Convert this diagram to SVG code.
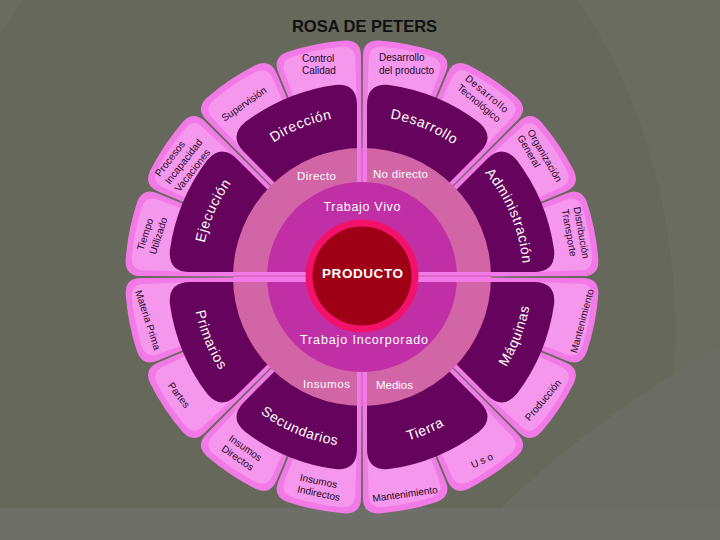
<svg xmlns="http://www.w3.org/2000/svg" width="720" height="540" viewBox="0 0 720 540">
<style>
.po{fill:#f27ae6}
.pi{fill:#f597ec}
.sg{fill:#66035c}
.pt{font-family:"Liberation Sans",Arial,sans-serif;font-size:10px;fill:#1e0a1e}
.pc{text-anchor:middle}
.sl{font-family:"Liberation Sans",Arial,sans-serif;font-size:14px;fill:#ffffff;letter-spacing:0.6px}
.rt{font-family:"Liberation Sans",Arial,sans-serif;fill:#ffffff;text-anchor:middle}
.strip{fill:#f27ae6}
.sline{stroke:#c45aaa;stroke-width:1}
</style>
<defs>
<path id="po" d="M -23.85,-122.70 L -42.17,-216.94 Q -45.22,-232.65 -29.42,-235.17 A 237 237 0 0 1 29.42,-235.17 Q 45.22,-232.65 42.17,-216.94 L 23.85,-122.70 A 125 125 0 0 0 -23.85,-122.70 Z"/>
<path id="pi" d="M -28.89,-172.60 L -35.98,-215.01 Q -38.13,-227.83 -25.27,-229.61 A 231 231 0 0 1 25.27,-229.61 Q 38.13,-227.83 35.98,-215.01 L 28.89,-172.60 Z"/>
<path id="sg" d="M 5,-124.90 L 5,-172 Q 5,-193.94 26.93,-192.12 A 194 194 0 0 1 116.83,-154.87 Q 133.59,-140.67 118.08,-125.16 L 84.78,-91.86 A 125 125 0 0 0 5,-124.90 Z"/>
<path id="aDir" d="M 226.97,189.32 A 161 161 0 0 1 398.22,120.12"/>
<path id="aDes" d="M 327.16,119.82 A 161 161 0 0 1 497.79,190.49"/>
<path id="aAdm" d="M 448.51,141.21 A 161 161 0 0 1 519.18,311.84"/>
<path id="aEje" d="M 203.96,307.72 A 161 161 0 0 1 279.08,138.99"/>
<path id="aMaq" d="M 457.06,417.93 A 170 170 0 0 0 526.95,235.88"/>
<path id="aTie" d="M 325.21,442.97 A 170 170 0 0 0 505.38,368.34"/>
<path id="aSec" d="M 218.62,368.34 A 170 170 0 0 0 398.79,442.97"/>
<path id="aPri" d="M 196.03,240.21 A 170 170 0 0 0 270.66,420.38"/>
</defs>

<g id="background">
<rect width="720" height="540" fill="#6a6c5f"/>
<ellipse cx="300" cy="330" rx="375" ry="490" fill="#65685a"/>
<path d="M 470,540 Q 560,440 720,345 L 720,540 Z" fill="#6b6d64"/>
<rect x="0" y="508" width="720" height="32" fill="#6e6f69"/>
</g>

<g id="title">
<text x="364.5" y="32" font-family="'Liberation Sans',Arial,sans-serif" font-size="16.5" font-weight="bold" fill="#111111" text-anchor="middle">ROSA DE PETERS</text>
</g>

<g id="petal-desarrollo-producto">
<use href="#po" class="po" transform="translate(362 277) rotate(11.25)"/>
<use href="#pi" class="pi" transform="translate(362 277) rotate(11.25)"/>
<text class="pt" transform="translate(379 61)"><tspan x="0" y="0">Desarrollo</tspan><tspan x="0" y="12.5">del producto</tspan></text>
</g>
<g id="petal-desarrollo-tecnologico">
<use href="#po" class="po" transform="translate(362 277) rotate(33.75)"/>
<use href="#pi" class="pi" transform="translate(362 277) rotate(33.75)"/>
<text class="pt" transform="translate(464.4 79.4) rotate(40)"><tspan x="0" y="0" letter-spacing="0.8">Desarrollo</tspan><tspan x="0" y="12.3">Tecnológico</tspan></text>
</g>
<g id="petal-organizacion">
<use href="#po" class="po" transform="translate(362 277) rotate(56.25)"/>
<use href="#pi" class="pi" transform="translate(362 277) rotate(56.25)"/>
<text class="pt" transform="translate(527 131.8) rotate(60)"><tspan x="0" y="0">Organización</tspan><tspan x="0" y="11.5">General</tspan></text>
</g>
<g id="petal-distribucion">
<use href="#po" class="po" transform="translate(362 277) rotate(78.75)"/>
<use href="#pi" class="pi" transform="translate(362 277) rotate(78.75)"/>
<text class="pt" transform="translate(573.6 207.6) rotate(80)"><tspan x="0" y="0">Distribución</tspan><tspan x="0" y="12">Transporte</tspan></text>
</g>
<g id="petal-mantenimiento-1">
<use href="#po" class="po" transform="translate(362 277) rotate(101.25)"/>
<use href="#pi" class="pi" transform="translate(362 277) rotate(101.25)"/>
<text class="pt pc" transform="translate(582 321) rotate(-75)" y="3.5">Mantenimiento</text>
</g>
<g id="petal-produccion">
<use href="#po" class="po" transform="translate(362 277) rotate(123.75)"/>
<use href="#pi" class="pi" transform="translate(362 277) rotate(123.75)"/>
<text class="pt pc" transform="translate(543 400) rotate(-50)" y="3.5">Producción</text>
</g>
<g id="petal-uso">
<use href="#po" class="po" transform="translate(362 277) rotate(146.25)"/>
<use href="#pi" class="pi" transform="translate(362 277) rotate(146.25)"/>
<text class="pt pc" transform="translate(483 460) rotate(-25)" y="3.5" letter-spacing="2.5">Uso</text>
</g>
<g id="petal-mantenimiento-2">
<use href="#po" class="po" transform="translate(362 277) rotate(168.75)"/>
<use href="#pi" class="pi" transform="translate(362 277) rotate(168.75)"/>
<text class="pt pc" transform="translate(405 494) rotate(-8)" y="3.5">Mantenimiento</text>
</g>
<g id="petal-insumos-indirectos">
<use href="#po" class="po" transform="translate(362 277) rotate(191.25)"/>
<use href="#pi" class="pi" transform="translate(362 277) rotate(191.25)"/>
<text class="pt" transform="translate(299.3 480.4) rotate(12)"><tspan x="0" y="0">Insumos</tspan><tspan x="0" y="12">Indirectos</tspan></text>
</g>
<g id="petal-insumos-directos">
<use href="#po" class="po" transform="translate(362 277) rotate(213.75)"/>
<use href="#pi" class="pi" transform="translate(362 277) rotate(213.75)"/>
<text class="pt" transform="translate(228 439.9) rotate(35)"><tspan x="0" y="0">Insumos</tspan><tspan x="0" y="12.5">Directos</tspan></text>
</g>
<g id="petal-partes">
<use href="#po" class="po" transform="translate(362 277) rotate(236.25)"/>
<use href="#pi" class="pi" transform="translate(362 277) rotate(236.25)"/>
<text class="pt pc" transform="translate(179 395) rotate(53)" y="3.5">Partes</text>
</g>
<g id="petal-materia-prima">
<use href="#po" class="po" transform="translate(362 277) rotate(258.75)"/>
<use href="#pi" class="pi" transform="translate(362 277) rotate(258.75)"/>
<text class="pt pc" transform="translate(148 320) rotate(72)" y="3.5">Materia Prima</text>
</g>
<g id="petal-tiempo">
<use href="#po" class="po" transform="translate(362 277) rotate(281.25)"/>
<use href="#pi" class="pi" transform="translate(362 277) rotate(281.25)"/>
<text class="pt" transform="translate(143.3 251.1) rotate(-72)"><tspan x="0" y="0">Tiempo</tspan><tspan x="0" y="13">Utilizado</tspan></text>
</g>
<g id="petal-procesos">
<use href="#po" class="po" transform="translate(362 277) rotate(303.75)"/>
<use href="#pi" class="pi" transform="translate(362 277) rotate(303.75)"/>
<text class="pt" transform="translate(159.8 177.2) rotate(-52)"><tspan x="0" y="0">Procesos</tspan><tspan x="0" y="12.5">Incapacidad</tspan><tspan x="0" y="25">Vacaciones</tspan></text>
</g>
<g id="petal-supervision">
<use href="#po" class="po" transform="translate(362 277) rotate(326.25)"/>
<use href="#pi" class="pi" transform="translate(362 277) rotate(326.25)"/>
<text class="pt pc" transform="translate(244 104) rotate(-35)" y="3.5">Supervisión</text>
</g>
<g id="petal-control-calidad">
<use href="#po" class="po" transform="translate(362 277) rotate(348.75)"/>
<use href="#pi" class="pi" transform="translate(362 277) rotate(348.75)"/>
<text class="pt" transform="translate(302 61.5)"><tspan x="0" y="0">Control</tspan><tspan x="0" y="12.5">Calidad</tspan></text>
</g>

<g id="seg-desarrollo">
<use href="#sg" class="sg" transform="translate(362 277)"/>
<text class="sl"><textPath href="#aDes" startOffset="50%" text-anchor="middle">Desarrollo</textPath></text>
</g>
<g id="seg-administracion">
<use href="#sg" class="sg" transform="translate(362 277) rotate(45)"/>
<text class="sl"><textPath href="#aAdm" startOffset="50%" text-anchor="middle">Administración</textPath></text>
</g>
<g id="seg-maquinas">
<use href="#sg" class="sg" transform="translate(362 277) rotate(90)"/>
<text class="sl"><textPath href="#aMaq" startOffset="50%" text-anchor="middle">Máquinas</textPath></text>
</g>
<g id="seg-tierra">
<use href="#sg" class="sg" transform="translate(362 277) rotate(135)"/>
<text class="sl" letter-spacing="1.2"><textPath href="#aTie" startOffset="50%" text-anchor="middle">Tierra</textPath></text>
</g>
<g id="seg-secundarios">
<use href="#sg" class="sg" transform="translate(362 277) rotate(180)"/>
<text class="sl"><textPath href="#aSec" startOffset="50%" text-anchor="middle">Secundarios</textPath></text>
</g>
<g id="seg-primarios">
<use href="#sg" class="sg" transform="translate(362 277) rotate(225)"/>
<text class="sl"><textPath href="#aPri" startOffset="50%" text-anchor="middle">Primarios</textPath></text>
</g>
<g id="seg-ejecucion">
<use href="#sg" class="sg" transform="translate(362 277) rotate(270)"/>
<text class="sl"><textPath href="#aEje" startOffset="50%" text-anchor="middle">Ejecución</textPath></text>
</g>
<g id="seg-direccion">
<use href="#sg" class="sg" transform="translate(362 277) rotate(315)"/>
<text class="sl"><textPath href="#aDir" startOffset="50%" text-anchor="middle">Dirección</textPath></text>
</g>

<g id="ring-trabajo">
<circle cx="362" cy="277" r="129" fill="#d265a6"/>
<text class="rt" x="316.5" y="180" font-size="11.5" textLength="39" lengthAdjust="spacing">Directo</text>
<text class="rt" x="400.5" y="177.5" font-size="11.5" textLength="55" lengthAdjust="spacing">No directo</text>
<text class="rt" x="326.5" y="388" font-size="11.5" textLength="47" lengthAdjust="spacing">Insumos</text>
<text class="rt" x="394.5" y="389" font-size="11.5" textLength="37" lengthAdjust="spacing">Medios</text>
</g>
<g id="circle-trabajo">
<circle cx="362" cy="277" r="95" fill="#c12fa6"/>
<text class="rt" x="362" y="211" font-size="12.5" textLength="77" lengthAdjust="spacing">Trabajo Vivo</text>
<text class="rt" x="364" y="343.5" font-size="12.5" textLength="128" lengthAdjust="spacing">Trabajo Incorporado</text>
</g>

<g id="connectors">
<rect class="strip" x="357" y="148" width="10" height="34"/>
<rect class="strip" x="357" y="372" width="10" height="34"/>
<rect class="strip" x="233" y="272" width="80" height="10"/>
<rect class="strip" x="411" y="272" width="80" height="10"/>
<line class="sline" x1="362" y1="148" x2="362" y2="182"/>
<line class="sline" x1="362" y1="372" x2="362" y2="406"/>
<line class="sline" x1="233" y1="276" x2="313" y2="276"/>
<line class="sline" x1="411" y1="276" x2="491" y2="276"/>
</g>

<g id="producto">
<circle cx="362" cy="276" r="56.5" fill="#f2126a"/>
<circle cx="362" cy="276" r="49.5" fill="#a00015"/>
<text class="rt" x="362.5" y="278" font-size="13.5" font-weight="bold" textLength="81" lengthAdjust="spacing">PRODUCTO</text>
</g>
</svg>
